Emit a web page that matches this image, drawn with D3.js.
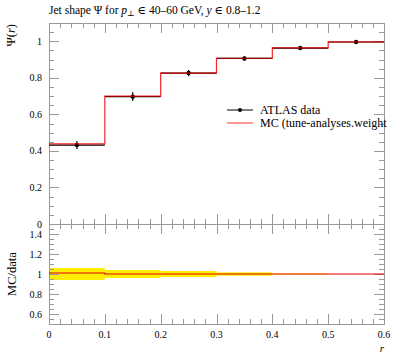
<!DOCTYPE html>
<html>
<head>
<meta charset="utf-8">
<script src="https://cdn.jsdelivr.net/npm/d3@7"></script>
<style>
  body { margin: 0; background: #fff; }
  svg { display: block; }
  text { font-family: "Liberation Serif", "DejaVu Serif", serif; fill: #000; }
  .tick-lbl { font-size: 10px; }
</style>
</head>
<body>
<svg id="plot" width="397" height="358"></svg>
<script>
// bins in r
const binLo = [0.0, 0.1, 0.2, 0.3, 0.4, 0.5];
const binHi = [0.1, 0.2, 0.3, 0.4, 0.5, 0.6];
// ATLAS data
const dataY = [0.432, 0.697, 0.826, 0.906, 0.963, 0.996];
const dataErr = [0.022, 0.024, 0.017, 0.011, 0.005, 0.002];
// MC prediction
const mcY = [0.438, 0.700, 0.826, 0.907, 0.964, 0.997];
// ratio panel: data relative error band, MC/data
const bandErr = [0.06, 0.04, 0.03, 0.016, 0.005, 0.0];
const ratioY = [1.01, 1.0, 1.0, 1.0, 1.0, 1.0];

const mainTicks = [0, 0.2, 0.4, 0.6, 0.8, 1];
const ratioTicks = [0.6, 0.8, 1, 1.2, 1.4];
const xTicks = [0, 0.1, 0.2, 0.3, 0.4, 0.5, 0.6];

const svg = d3.select("#plot");
const pLeft = 49, pRight = 384, pTop = 23, pMid = 224, pBottom = 324;

const x = d3.scaleLinear().domain([0, 0.6]).range([pLeft, pRight]);
const y = d3.scaleLinear().domain([0, 1.1]).range([pMid, pTop]);
const yr = d3.scaleLinear().domain([0.5, 1.5]).range([pBottom, pMid]);

const axisColor = "#999";

// ratio band
const bins = binLo.map((lo, i) => ({ lo, hi: binHi[i], i }));
svg.append("g").selectAll("rect").data(bins.filter(b => bandErr[b.i] > 0)).enter()
  .append("rect")
  .attr("x", b => x(b.lo))
  .attr("width", b => x(b.hi) - x(b.lo))
  .attr("y", b => yr(1 + bandErr[b.i]))
  .attr("height", b => yr(1 - bandErr[b.i]) - yr(1 + bandErr[b.i]))
  .attr("fill", "#ffee00");

// frames
function frame(y0, y1) {
  svg.append("rect").attr("x", pLeft + 0.5).attr("y", y0 + 0.5)
    .attr("width", pRight - pLeft).attr("height", y1 - y0)
    .attr("fill", "none").attr("stroke", axisColor).attr("stroke-width", 1);
}
frame(pTop, pMid);
frame(pMid, pBottom);

// y ticks (left and right, pointing inward)
function yTicks(scale, lo, hi, majors) {
  const g = svg.append("g").attr("stroke", axisColor).attr("stroke-width", 1);
  const minors = d3.range(Math.round(lo * 20), Math.round(hi * 20) + 1).map(v => v / 20);
  minors.forEach(v => {
    const isMajor = majors.some(m => Math.abs(m - v) < 1e-6);
    const len = isMajor ? 10 : 5;
    const yy = Math.round(scale(v)) + 0.5;
    g.append("line").attr("x1", pLeft).attr("x2", pLeft + len).attr("y1", yy).attr("y2", yy);
    g.append("line").attr("x1", pRight).attr("x2", pRight - len).attr("y1", yy).attr("y2", yy);
  });
  majors.forEach(m => {
    svg.append("text").attr("class", "tick-lbl")
      .attr("x", pLeft - 7).attr("y", scale(m) + 3.5)
      .attr("text-anchor", "end").text(d3.format("")(m));
  });
}
yTicks(y, 0.05, 1.1, mainTicks);
yTicks(yr, 0.55, 1.45, ratioTicks);

// x ticks at top, middle and bottom
function xTickRow(yy, dir) {
  const g = svg.append("g").attr("stroke", axisColor).attr("stroke-width", 1);
  d3.range(0, 31).map(v => v / 50).forEach(v => {
    const isMajor = Math.abs(v * 10 - Math.round(v * 10)) < 1e-6;
    const len = isMajor ? 10 : 5;
    const xx = Math.round(x(v)) + 0.5;
    if (dir === 0) {
      g.append("line").attr("x1", xx).attr("x2", xx).attr("y1", yy - len).attr("y2", yy + len);
    } else {
      g.append("line").attr("x1", xx).attr("x2", xx).attr("y1", yy).attr("y2", yy + dir * len);
    }
  });
}
xTickRow(pTop, 1);
xTickRow(pMid, 0);
xTickRow(pBottom, -1);
xTicks.forEach(t => {
  svg.append("text").attr("class", "tick-lbl")
    .attr("x", x(t)).attr("y", pBottom + 14)
    .attr("text-anchor", "middle").text(d3.format("")(t));
});

// data: horizontal bin bars, vertical error bars, dots
const dg = svg.append("g");
bins.forEach(b => {
  const cx = x((b.lo + b.hi) / 2);
  dg.append("line").attr("x1", x(b.lo)).attr("x2", x(b.hi))
    .attr("y1", y(dataY[b.i])).attr("y2", y(dataY[b.i]))
    .attr("stroke", "#000").attr("stroke-width", 1.2);
  dg.append("line").attr("x1", cx).attr("x2", cx)
    .attr("y1", y(dataY[b.i] - dataErr[b.i])).attr("y2", y(dataY[b.i] + dataErr[b.i]))
    .attr("stroke", "#000").attr("stroke-width", 1.2);
  dg.append("circle").attr("cx", cx).attr("cy", y(dataY[b.i])).attr("r", 2.2).attr("fill", "#000");
});

// MC step line
const stepPts = [];
bins.forEach(b => { stepPts.push([b.lo, mcY[b.i]]); stepPts.push([b.hi, mcY[b.i]]); });
svg.append("path")
  .attr("d", d3.line().x(d => x(d[0])).y(d => y(d[1]))(stepPts))
  .attr("fill", "none").attr("stroke", "#ee0000").attr("stroke-width", 1.2)
  .attr("stroke-opacity", 0.85);

// ratio MC/data step
const rPts = [];
bins.forEach(b => { rPts.push([b.lo, ratioY[b.i]]); rPts.push([b.hi, ratioY[b.i]]); });
svg.append("path")
  .attr("d", d3.line().x(d => x(d[0])).y(d => yr(d[1]))(rPts))
  .attr("fill", "none").attr("stroke", "#e00000").attr("stroke-width", 1.2);

// legend
const lg = svg.append("g");
lg.append("line").attr("x1", 227).attr("x2", 253).attr("y1", 110).attr("y2", 110)
  .attr("stroke", "#000").attr("stroke-width", 1);
lg.append("circle").attr("cx", 240).attr("cy", 110).attr("r", 2).attr("fill", "#000");
lg.append("text").attr("x", 260).attr("y", 114).attr("font-size", 12).text("ATLAS data");
lg.append("line").attr("x1", 227).attr("x2", 253).attr("y1", 123).attr("y2", 123)
  .attr("stroke", "#ff3030").attr("stroke-width", 1);
lg.append("text").attr("x", 260).attr("y", 127).attr("font-size", 12).text("MC (tune-analyses.weight");

// title
const title = svg.append("text").attr("x", pLeft).attr("y", 14).attr("font-size", 11.5);
title.append("tspan").text("Jet shape Ψ for ");
title.append("tspan").attr("font-style", "italic").text("p");
title.append("tspan").attr("font-size", 8).attr("dy", 2).text("⊥");
title.append("tspan").attr("dy", -2).text(" ∈ 40–60 GeV, ");
title.append("tspan").attr("font-style", "italic").text("y");
title.append("tspan").text(" ∈ 0.8–1.2");

// axis labels
const yl = svg.append("text").attr("transform", "translate(15,24) rotate(-90)")
  .attr("text-anchor", "end").attr("font-size", 12.5);
yl.append("tspan").text("Ψ(");
yl.append("tspan").attr("font-style", "italic").text("r");
yl.append("tspan").text(")");
svg.append("text").attr("transform", "translate(16,274) rotate(-90)")
  .attr("text-anchor", "middle").attr("font-size", 12.5).text("MC/data");
svg.append("text").attr("x", pRight).attr("y", 352).attr("text-anchor", "end")
  .attr("font-size", 11).attr("font-style", "italic").text("r");
</script>
</body>
</html>
